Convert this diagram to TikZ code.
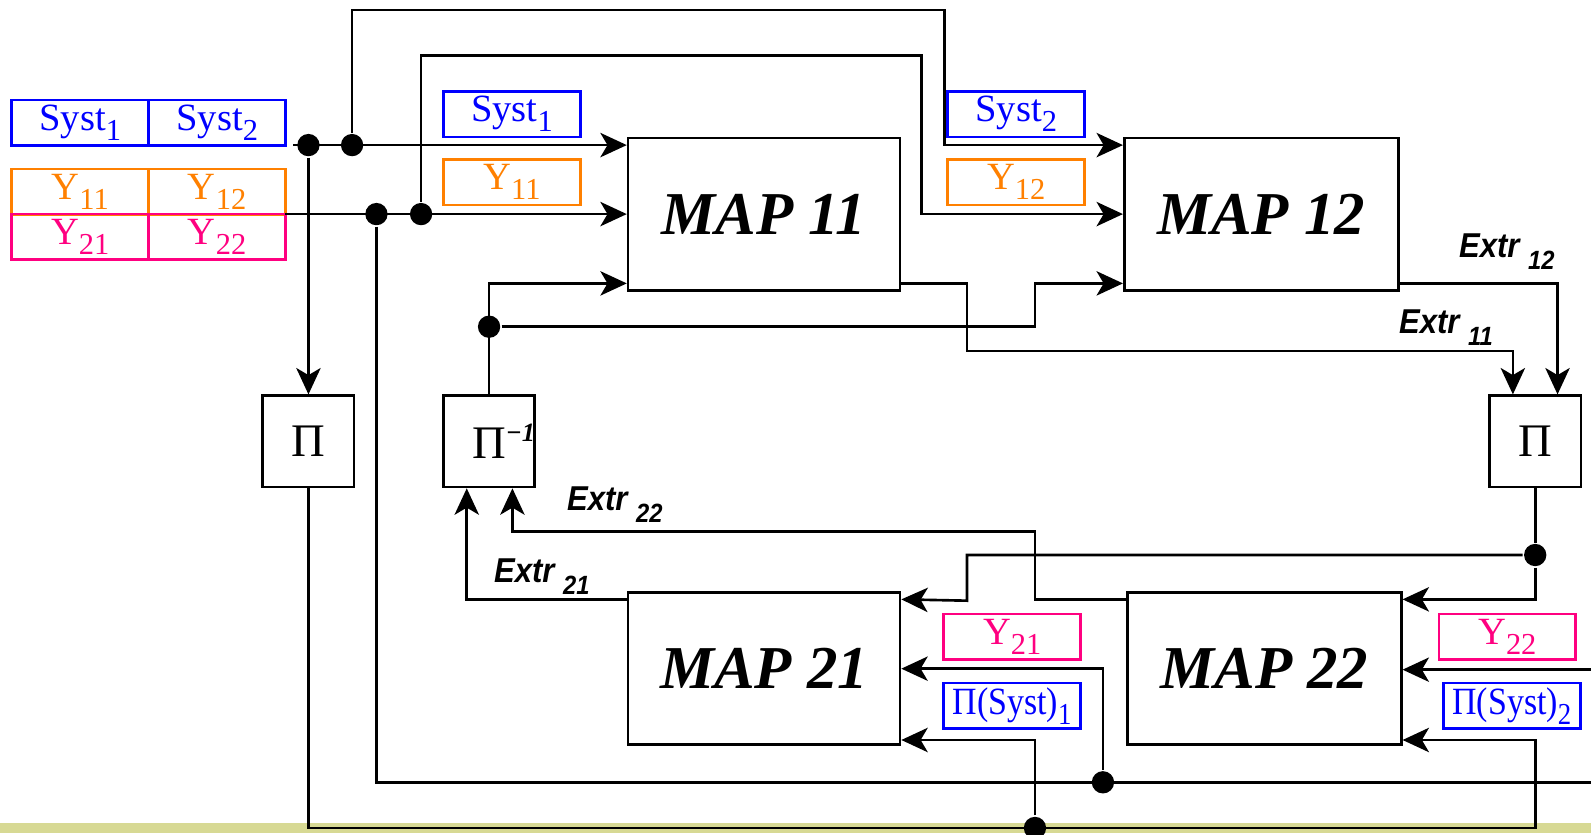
\documentclass[tikz,border=0pt]{standalone}
\usepackage{fontspec}
\setmainfont{Liberation Serif}
\setsansfont{Liberation Sans}
\usepackage{graphicx}
\usepackage{xcolor}
\usetikzlibrary{arrows.meta}
\usetikzlibrary{calc}
\definecolor{systblue}{RGB}{0,0,255}
\definecolor{yorange}{RGB}{255,128,0}
\definecolor{ypink}{RGB}{255,0,128}
\definecolor{barkhaki}{RGB}{215,217,148}
\newcommand{\idx}[1]{\raisebox{-5pt}{\fontsize{15}{15}\selectfont #1}}
\newcommand{\pisyst}[1]{\scalebox{0.88}[1]{Π(Syst)\idx{#1}}}
\newcommand{\extr}[1]{\scalebox{0.9}[1]{Extr~\raisebox{-6pt}{\fontsize{13}{13}\selectfont #1}}}

\begin{document}
\begin{tikzpicture}[x=0.5pt,y=-0.5pt,line width=1.3pt,
  arr/.style={-{Stealth[length=13pt,width=12pt,inset=3.5pt]}},
  mapbox/.style={draw, minimum width=134pt, minimum height=75pt, inner sep=0pt, font=\fontsize{30}{30}\selectfont\bfseries\itshape},
  pibox/.style={draw, minimum width=45pt, minimum height=45pt, inner sep=0pt, font=\fontsize{23}{23}\selectfont},
  lbl/.style={draw=#1, text=#1, minimum width=67.5pt, minimum height=22.5pt, inner sep=0pt, font=\fontsize{19}{19}\selectfont},
  dot/.style={circle, fill, inner sep=0pt, minimum size=11pt},
  extr/.style={inner sep=0pt, font=\sffamily\bfseries\itshape\fontsize{17}{17}\selectfont}]
  \useasboundingbox (0,0) rectangle (1568,822);
  % bar at the bottom
  \fill[barkhaki] (0,811) rectangle (1568,821);

  % tables of inputs
  \node[lbl=systblue] (ts1) at (79,121) {Syst\idx{1}};
  \node[lbl=systblue] (ts2) at (214,121) {Syst\idx{2}};
  \node[lbl=yorange] (ty11) at (79,189) {Y\idx{11}};
  \node[lbl=yorange] (ty12) at (214,189) {Y\idx{12}};
  \node[lbl=ypink] (ty21) at (79,233.5) {Y\idx{21}};
  \node[lbl=ypink] (ty22) at (214,233.5) {Y\idx{22}};

  % labels on the inputs
  \node[lbl=systblue] (ls1) at (504.5,112.5) {Syst\idx{1}};
  \node[lbl=yorange] (ly11) at (504.5,179.5) {Y\idx{11}};
  \node[lbl=systblue] (ls2) at (1001.5,112.5) {Syst\idx{2}};
  \node[lbl=yorange] (ly12) at (1001.5,179.5) {Y\idx{12}};
  \node[lbl=ypink] (ly21) at (997.5,627.5) {Y\idx{21}};
  \node[lbl=systblue] (lp1) at (997.5,695.5) {\pisyst{1}};
  \node[lbl=ypink] (ly22) at (1485.5,627.5) {Y\idx{22}};
  \node[lbl=systblue] (lp2) at (1490,695.5) {\pisyst{2}};

  % maps
  \node[mapbox] (m11) at (753,211) {MAP 11};
  \node[mapbox, minimum width=135pt] (m12) at (1243,211) {MAP 12};
  \node[mapbox] (m21) at (753,659) {MAP 21};
  \node[mapbox, minimum width=135pt] (m22) at (1246,659) {MAP 22};

  % permutations
  \node[pibox] (pL) at (304,435) {Π};
  \node[pibox] (pI) at (482,435) {Π\rlap{\raisebox{8pt}{\fontsize{13}{13}\selectfont\bfseries\itshape −1}}};
  \node[pibox] (pR) at (1513,435) {Π};

  % junctions
  \node[dot] (d1) at (304,143) {};
  \node[dot] (d2) at (347,143) {};
  \node[dot] (d3) at (371,211) {};
  \node[dot] (d4) at (415,211) {};
  \node[dot] (d5) at (482,322) {};
  \node[dot] (d6) at (1513,547) {};
  \node[dot] (d7) at (1087,771) {};
  \node[dot] (d8) at (1020,816) {};

  \coordinate (sIn) at (289,143);
  \coordinate (yIn) at (281,211);
  \coordinate (t1) at (931,10);
  \coordinate (t2) at (908,55);
  \coordinate (k1) at (1020,322);
  \coordinate (k2) at (953,346);
  \coordinate (k3) at (953,592);
  \coordinate (k4) at (1020,524);
  \coordinate (k5) at (1513,816);
  \coordinate (eR1) at (1568,771);
  \coordinate (eR2) at (1568,660);

  % inputs of MAP 11
  \draw[arr] (sIn) -- (m11.west |- sIn);
  \draw[arr] (yIn) -- (m11.west);
  \draw[arr] (pI.north) |- ([yshift=4pt]m11.south west);
  % inputs of MAP 12
  \draw[arr] (d2) |- (t1) |- (m12.west |- sIn);
  \draw[arr] (d4) |- (t2) |- (m12.west);
  \draw[arr] (d5) -- (k1) |- ([yshift=4pt]m12.south west);
  \draw[arr] (d1) -- (pL.north);
  % extracted parts
  \draw[arr] ([yshift=4pt]m11.south east) -| (k2) -| ([xshift=-11pt]pR.north);
  \draw[arr] ([yshift=4pt]m12.south east) -| ([xshift=11pt]pR.north);
  \draw (pR.south) -- (d6);
  \draw[arr] (d6) -| (k3) -- ([yshift=-4pt]m21.north east);
  \draw[arr] (d6) |- ([yshift=-4pt]m22.north east);
  \draw[arr] ([yshift=-4pt]m22.north west) -| (k4) -| ([xshift=11.5pt]pI.south);
  \draw[arr] ([yshift=-4pt]m21.north west) -| ([xshift=-11pt]pI.south);
  % Y to the second row
  \draw (d3) |- (eR1);
  \draw[arr] (d7) |- (m21.east);
  \draw[arr] (eR2) -- (m22.east |- eR2);
  % permuted systems
  \draw[arr] (pL.south) |- (k5) |- ([yshift=3pt]m22.south east);
  \draw[arr] (d8) |- ([yshift=3pt]m21.south east);

  \node[extr] (e11) at (1425,323) {\extr{11}};
  \node[extr] (e12) at (1485,248) {\extr{12}};
  \node[extr] (e21) at (534,568) {\extr{21}};
  \node[extr] (e22) at (606,497) {\extr{22}};
\end{tikzpicture}
\end{document}
